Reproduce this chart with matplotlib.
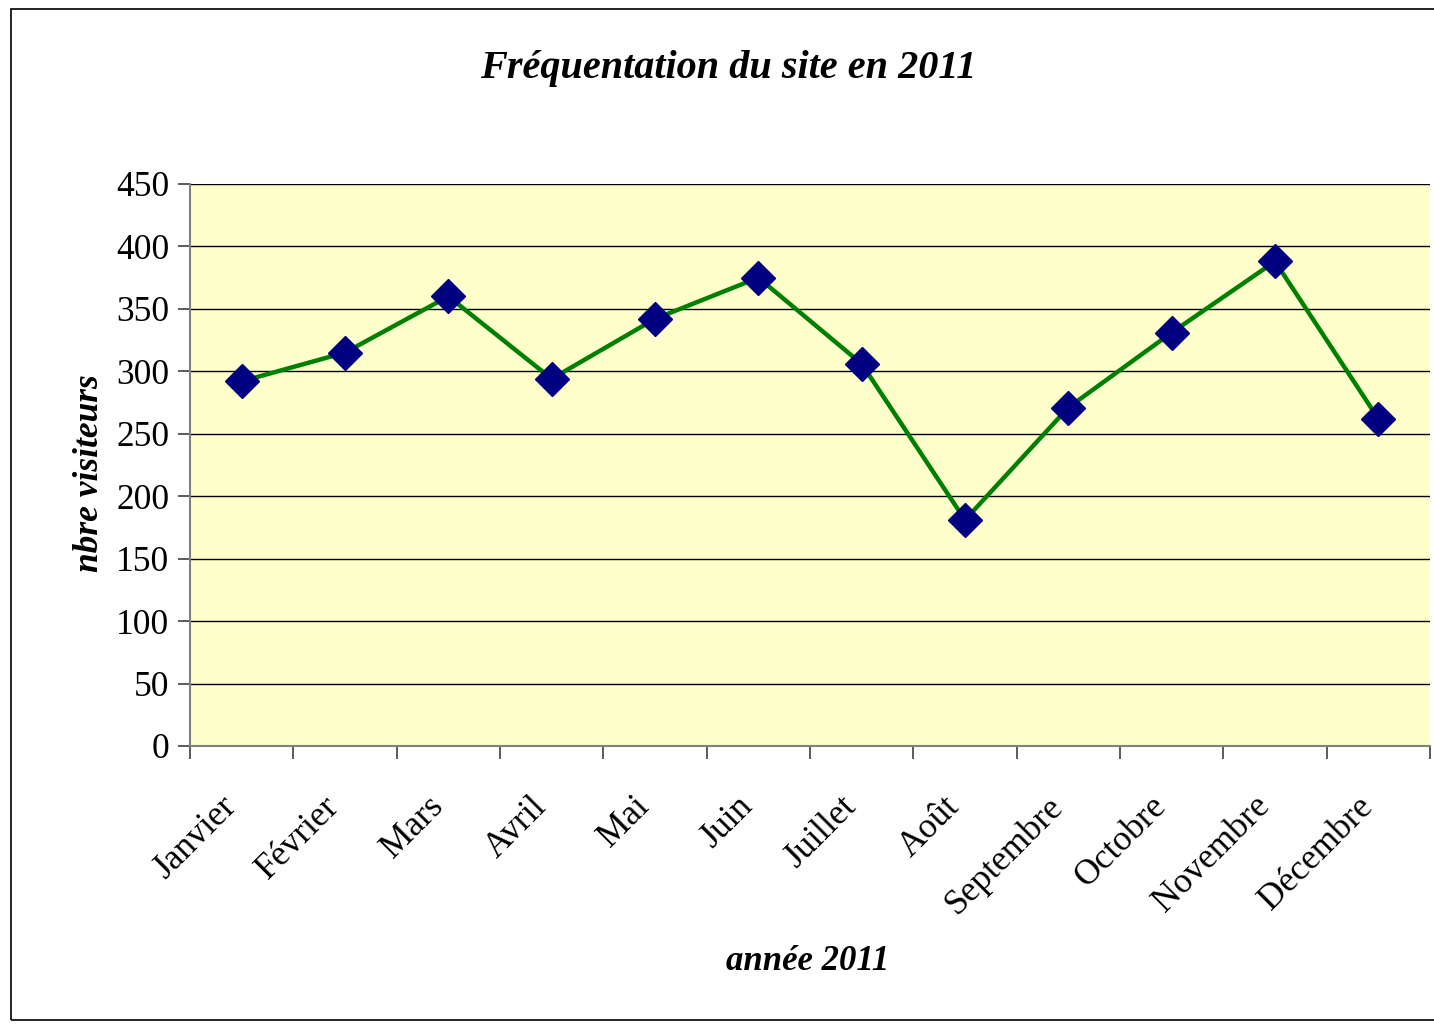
import matplotlib.pyplot as plt
import matplotlib.transforms as mtransforms
from matplotlib.patches import Rectangle
from matplotlib.ticker import FixedLocator, NullFormatter

months = ["Janvier", "Février", "Mars", "Avril", "Mai", "Juin", "Juillet",
          "Août", "Septembre", "Octobre", "Novembre", "Décembre"]
visitors = [292, 315, 360, 294, 342, 375, 306, 181, 271, 331, 388, 262]
y_ticks = [0, 50, 100, 150, 200, 250, 300, 350, 400, 450]

plt.rcParams['font.family'] = ['Liberation Serif', 'DejaVu Serif']

fig = plt.figure(figsize=(14.34, 10.25), dpi=100)
ax = fig.add_axes([190 / 1434, 1 - 746 / 1025, 1240 / 1434, 562 / 1025])

# frame round the whole chart (open on the right like the source)
fig.patches.append(Rectangle((11 / 1434, 1 - 1020 / 1025), 1.1, 1011 / 1025,
                             transform=fig.transFigure, fill=False,
                             edgecolor='black', linewidth=1.2))

ax.set_facecolor('#FFFFCC')
x = list(range(len(months)))
ax.plot(x, visitors, color='#008000', linewidth=3.2, marker='D',
        markersize=17, markerfacecolor='#000080', markeredgecolor='#000080',
        zorder=3)

ax.set_xlim(-0.5, len(months) - 0.5)
ax.set_ylim(0, 450)
ax.set_yticks(y_ticks)
ax.set_yticklabels([str(v) for v in y_ticks], fontsize=25.5)
ax.grid(axis='y', color='black', linewidth=1.0)
ax.set_axisbelow(True)

# category labels at centres, tick marks at the boundaries
ax.set_xticks(x)
ax.set_xticklabels(months, rotation=45, ha='right', rotation_mode='anchor',
                   fontsize=25.5)
ax.tick_params(axis='x', which='major', length=0, pad=28)
shift = mtransforms.ScaledTranslation(-0.22, -0.05, fig.dpi_scale_trans)
for lab in ax.get_xticklabels():
    lab.set_transform(lab.get_transform() + shift)
ax.xaxis.set_minor_locator(FixedLocator([i - 0.5 for i in range(len(months) + 1)]))
ax.xaxis.set_minor_formatter(NullFormatter())
ax.tick_params(axis='x', which='minor', length=9, width=1.2, color='#404040')
ax.tick_params(axis='y', length=9, width=1.2, color='#404040', pad=6)

for side in ['top', 'right']:
    ax.spines[side].set_visible(False)
for side in ['left', 'bottom']:
    ax.spines[side].set_color('#808080')
    ax.spines[side].set_linewidth(1.5)

fig.text(728 / 1434, 1 - 68 / 1025, "Fréquentation du site en 2011",
         ha='center', va='center', fontsize=29, fontweight='bold',
         fontstyle='italic')
fig.text(90 / 1434, 1 - 473 / 1025, "nbre visiteurs", rotation=90,
         ha='center', va='center', fontsize=25.5, fontweight='bold',
         fontstyle='italic')
fig.text(808 / 1434, 1 - 962 / 1025, "année 2011", ha='center', va='center',
         fontsize=25, fontweight='bold', fontstyle='italic')

fig.savefig("out.png", dpi=100, facecolor='white')
